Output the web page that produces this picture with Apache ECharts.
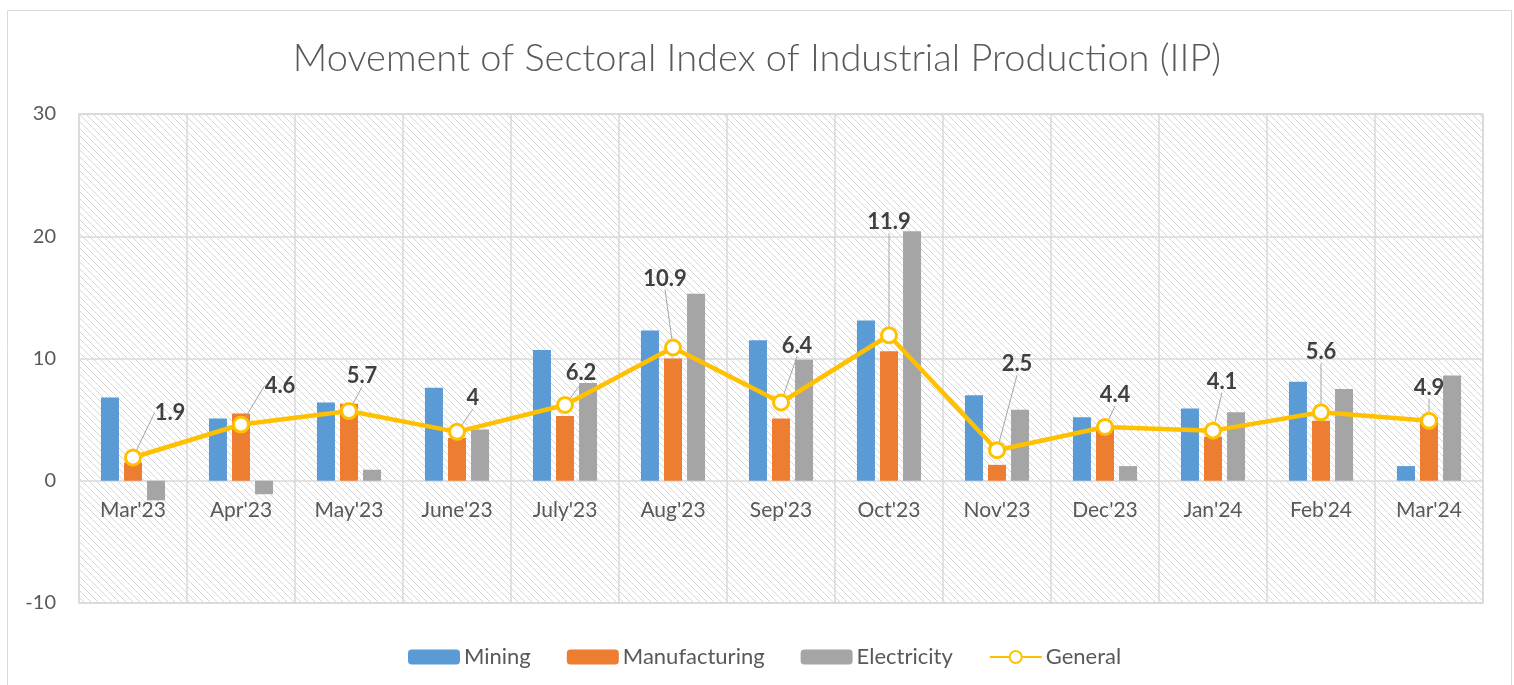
<!DOCTYPE html>
<html>
<head>
<meta charset="utf-8">
<title>Movement of Sectoral Index of Industrial Production (IIP)</title>
<script src="https://cdn.jsdelivr.net/npm/echarts@6/dist/echarts.min.js"></script>
<style>
  html, body { margin: 0; padding: 0; background: #fff; }
  #main { width: 1514px; height: 685px; }
</style>
</head>
<body>
<div id="main"></div>
<script>
// categories and values
var months = ["Mar'23", "Apr'23", "May'23", "June'23", "July'23", "Aug'23", "Sep'23",
              "Oct'23", "Nov'23", "Dec'23", "Jan'24", "Feb'24", "Mar'24"];
var mining = [6.8, 5.1, 6.4, 7.6, 10.7, 12.3, 11.5, 13.1, 7.0, 5.2, 5.9, 8.1, 1.2];
var manufacturing = [1.5, 5.5, 6.3, 3.5, 5.3, 10.0, 5.1, 10.6, 1.3, 4.5, 3.6, 4.9, 5.2];
var electricity = [-1.6, -1.1, 0.9, 4.2, 8.0, 15.3, 9.9, 20.4, 5.8, 1.2, 5.6, 7.5, 8.6];
var general = [1.9, 4.6, 5.7, 4, 6.2, 10.9, 6.4, 11.9, 2.5, 4.4, 4.1, 5.6, 4.9];
var yTicks = [-10, 0, 10, 20, 30];

// where each data label of "General" sits relative to its point (px)
var labelShift = [[37, -45], [39, -39], [13, -35], [16, -34], [16, -32], [-8, -69], [16, -57],
                  [0, -113], [20, -86], [10, -32], [9, -49], [0, -60], [0, -33]];

var FONT = 'Lato, "Open Sans", sans-serif';
var GRID = '#d9d9d9';
var W = 1514, H = 685;
var gridTop = 114, gridBottom = 82;

// diagonal hatching used as plot background
function hatch() {
  var n = 7;
  var c = document.createElement('canvas');
  c.width = n; c.height = n;
  var g = c.getContext('2d');
  g.fillStyle = '#ffffff';
  g.fillRect(0, 0, n, n);
  g.fillStyle = '#d6d6d6';
  for (var i = 0; i < n; i++) g.fillRect(i, i, 1, 1);
  return {image: c, repeat: 'repeat'};
}

// x axis sits on the zero line, not at the bottom of the plot
var plotH = H - gridTop - gridBottom;
var min = yTicks[0], max = yTicks[yTicks.length - 1];
var zeroOffset = -plotH * (0 - min) / (max - min);

var chart = echarts.init(document.getElementById('main'), null, {renderer: 'canvas'});

function barSeries(name, data, color) {
  return {
    name: name,
    type: 'bar',
    data: data,
    barWidth: 18,
    barGap: '28%',
    itemStyle: {color: color},
    z: 2
  };
}

chart.setOption({
  animation: false,
  backgroundColor: '#fff',
  textStyle: {fontFamily: FONT},
  graphic: [{
    type: 'rect',
    shape: {x: 7.5, y: 10.5, width: 1504, height: 700},
    style: {fill: 'none', stroke: GRID, lineWidth: 1},
    silent: true
  }],
  title: {
    text: 'Movement of Sectoral Index of Industrial Production (IIP)',
    left: 'center',
    top: 35,
    textStyle: {fontFamily: FONT, fontSize: 38, fontWeight: 300, color: '#595959'}
  },
  legend: {
    left: 403,
    top: 641,
    itemWidth: 52,
    itemHeight: 15,
    itemGap: 36,
    textStyle: {fontFamily: FONT, fontSize: 22, color: '#595959', padding: [0, 0, 0, -1]},
    data: ['Mining', 'Manufacturing', 'Electricity', 'General']
  },
  grid: {
    left: 79,
    right: 31,
    top: gridTop,
    bottom: gridBottom,
    show: true,
    backgroundColor: hatch(),
    borderColor: GRID,
    borderWidth: 1.5
  },
  xAxis: {
    type: 'category',
    data: months,
    offset: zeroOffset,
    axisLine: {show: false, onZero: false},
    axisTick: {show: false},
    axisLabel: {color: '#595959', fontSize: 21, margin: 19, interval: 0, fontFamily: FONT},
    splitLine: {show: true, interval: 0, lineStyle: {color: GRID, width: 1.5}}
  },
  yAxis: {
    type: 'value',
    min: min,
    max: max,
    interval: 10,
    axisLine: {show: false},
    axisTick: {show: false},
    axisLabel: {color: '#595959', fontSize: 20, margin: 23, fontFamily: FONT},
    splitLine: {lineStyle: {color: GRID, width: 1.5}}
  },
  series: [
    barSeries('Mining', mining, '#5b9bd5'),
    barSeries('Manufacturing', manufacturing, '#ed7d31'),
    barSeries('Electricity', electricity, '#a5a5a5'),
    {
      name: 'General',
      type: 'line',
      data: general,
      z: 5,
      symbol: 'circle',
      symbolSize: 15,
      lineStyle: {color: '#ffc000', width: 4.5},
      itemStyle: {color: '#ffffff', borderColor: '#ffc000', borderWidth: 3},
      label: {
        show: true,
        position: 'inside',
        fontFamily: FONT,
        fontSize: 22,
        fontWeight: 'bold',
        color: '#404040'
      },
      labelLine: {show: true, lineStyle: {color: '#a6a6a6', width: 1}},
      labelLayout: function (p) {
        var s = labelShift[p.dataIndex];
        return {dx: s[0], dy: s[1]};
      }
    }
  ]
});
</script>
</body>
</html>
